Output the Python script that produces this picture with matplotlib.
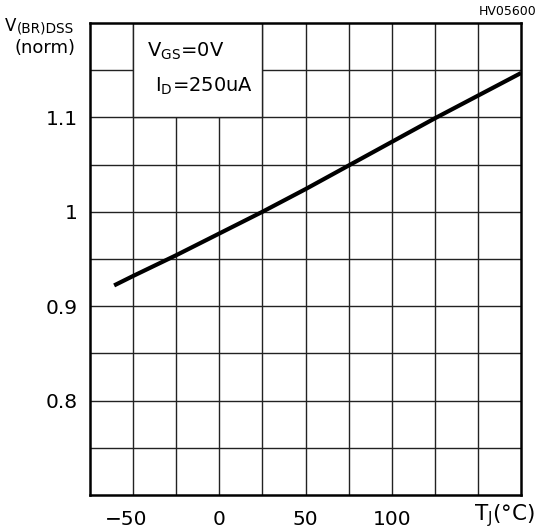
import matplotlib
matplotlib.use("Agg")
import matplotlib.pyplot as plt
from matplotlib.patches import Rectangle
from matplotlib.transforms import ScaledTranslation

plt.rcParams['font.family'] = ['DejaVu Sans']
plt.rcParams['mathtext.fontset'] = 'custom'
plt.rcParams['mathtext.rm'] = 'DejaVu Sans'
plt.rcParams['mathtext.it'] = 'DejaVu Sans'

# Data
temp_c = [-61, -50, -25, 0, 25, 50, 75, 100, 125, 150, 175]
v_norm = [0.922, 0.932, 0.954, 0.977, 1.0, 1.024, 1.049, 1.074, 1.099, 1.123, 1.147]
x_labels = {-50: "\u221250", 0: "0", 50: "50", 100: "100"}
y_labels = {0.8: "0.8", 0.9: "0.9", 1.0: "1", 1.1: "1.1"}
x_grid = [-75 + 25 * i for i in range(11)]
y_grid = [round(0.7 + 0.05 * i, 2) for i in range(11)]

W, H = 542, 530
fig = plt.figure(figsize=(W / 100, H / 100), dpi=100)
ax = fig.add_axes([90 / W, 1 - 495 / H, 431 / W, 472 / H])
ax.set_xlim(-75, 175)
ax.set_ylim(0.7, 1.2)

ax.vlines(x_grid[1:-1], 0.7, 1.2, colors='#222222', lw=1.0, zorder=1)
ax.hlines(y_grid[1:-1], -75, 175, colors='#222222', lw=1.0, zorder=1)

# condition box
ax.add_patch(Rectangle((-50, 1.1), 75, 0.1, facecolor='white', edgecolor='#222222', lw=1.0, zorder=2))
ax.text(-42, 1.164, r"V$_{\mathrm{GS}}$=0V", fontsize=14, zorder=3, va='baseline')
ax.text(-37.3, 1.127, r"I$_{\mathrm{D}}$=250uA", fontsize=14, zorder=3, va='baseline')

ax.plot(temp_c, v_norm, color='black', lw=3, solid_capstyle='butt', zorder=4)

ax.set_xticks(list(x_labels.keys()))
ax.set_xticklabels(list(x_labels.values()), fontsize=14.5)
ax.set_yticks(list(y_labels.keys()))
ax.set_yticklabels(list(y_labels.values()), fontsize=14.5)
ax.tick_params(axis='x', length=0, pad=11)
ax.tick_params(axis='y', length=0, pad=9)
lab0 = ax.get_xticklabels()[0]
lab0.set_transform(lab0.get_transform() + ScaledTranslation(-7 / 100, 0, fig.dpi_scale_trans))
for s in ax.spines.values():
    s.set_linewidth(1.8)
    s.set_zorder(5)

fig.text(5 / W, 1 - 31 / H, "V", fontsize=12, va='baseline')
fig.text(17 / W, 1 - 32 / H, "(BR)DSS", fontsize=9.8, va='baseline')
fig.text(15 / W, 1 - 53 / H, "(norm)", fontsize=13, va='baseline')
fig.text(474 / W, 1 - 520 / H, "T$_{\\mathrm{J}}$(\u00b0C)", fontsize=15.5, va='baseline')
fig.text(537 / W, 1 - 15 / H, "HV05600", fontsize=9, ha='right', va='baseline')

fig.savefig("out.png", dpi=100)
